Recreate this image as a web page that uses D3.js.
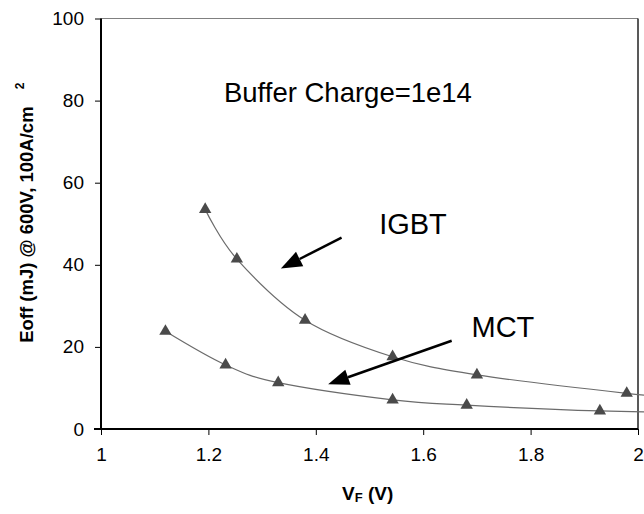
<!DOCTYPE html>
<html>
<head>
<meta charset="utf-8">
<script src="https://cdn.jsdelivr.net/npm/d3@7"></script>
<style>
  body { margin: 0; background: #fff; }
  text { font-family: Arial, "Liberation Sans", sans-serif; }
</style>
</head>
<body>
<div class="chart"></div>
<script>
var width = 644;
var height = 514;
var margin = {top: 18.5, right: 6, bottom: 85, left: 101};

// data (V_F in volts, Eoff in mJ)
var igbtVf = [1.194, 1.253, 1.380, 1.543, 1.700, 1.979, 2.12];
var igbtEoff = [53.5, 41.4, 26.5, 17.6, 13.2, 8.7, 7.2];
var mctVf = [1.120, 1.232, 1.330, 1.543, 1.681, 1.929, 2.12];
var mctEoff = [23.8, 15.6, 11.3, 7.1, 5.8, 4.4, 4.0];

var xTicks = [1, 1.2, 1.4, 1.6, 1.8, 2];
var yTicks = [0, 20, 40, 60, 80, 100];

// annotations in data units
var arrows = [
  {x1: 1.448, y1: 46.6, x2: 1.335, y2: 39.1},
  {x1: 1.653, y1: 21.5, x2: 1.423, y2: 10.9}
];
var labels = [
  {text: "Buffer Charge=1e14", x: 1.229, y: 79.6, size: 27.5},
  {text: "IGBT", x: 1.518, y: 47.4, size: 29},
  {text: "MCT", x: 1.690, y: 22.5, size: 29}
];

var svg = d3.select(".chart").append("svg")
  .attr("width", width)
  .attr("height", height);

var x = d3.scaleLinear().domain([1, 2]).range([margin.left, width - margin.right]);
var y = d3.scaleLinear().domain([0, 100]).range([height - margin.bottom, margin.top]);

// plot frame (top + right)
svg.append("line")
  .attr("x1", x(1)).attr("x2", x(2))
  .attr("y1", y(100)).attr("y2", y(100))
  .attr("stroke", "#808080").attr("stroke-width", 1);
svg.append("line")
  .attr("x1", x(2)).attr("x2", x(2))
  .attr("y1", y(100)).attr("y2", y(0))
  .attr("stroke", "#222").attr("stroke-width", 1.5);

// axes
var xAxis = svg.append("g")
  .attr("transform", "translate(0," + y(0) + ")")
  .call(d3.axisBottom(x).tickValues(xTicks).tickSize(6).tickPadding(13).tickFormat(d3.format("")));
var yAxis = svg.append("g")
  .attr("transform", "translate(" + x(1) + ",0)")
  .call(d3.axisLeft(y).tickValues(yTicks).tickSize(6).tickPadding(11));

[xAxis, yAxis].forEach(function(a) {
  a.select(".domain").attr("stroke", "#000").attr("stroke-width", 2);
  a.selectAll(".tick line").attr("stroke", "#000").attr("stroke-width", 1);
  a.selectAll("text").attr("font-size", 19).attr("fill", "#000")
    .attr("font-family", "Arial, 'Liberation Sans', sans-serif");
});
xAxis.select(".domain").attr("d", "M" + (x(1) - 7) + ",0H" + x(2));
yAxis.select(".domain").attr("d", "M0," + y(0) + "V" + y(100));

// axis titles
var yTitle = svg.append("text")
  .attr("transform", "translate(33," + y(21) + ") rotate(-90)")
  .attr("font-size", 18.5)
  .attr("font-weight", "bold");
yTitle.append("tspan").text("Eoff (mJ) @ 600V, 100A/cm ");
yTitle.append("tspan").attr("font-size", 12).attr("dy", -9).attr("dx", 12).text("2");

var xTitle = svg.append("text")
  .attr("x", 342)
  .attr("y", 500)
  .attr("font-size", 19)
  .attr("font-weight", "bold");
xTitle.append("tspan").text("V");
xTitle.append("tspan").attr("font-size", 13).attr("dy", 2).text("F");
xTitle.append("tspan").attr("dy", -2).text(" (V)");

// series
var line = d3.line()
  .x(function(d) { return x(d[0]); })
  .y(function(d) { return y(d[1]); })
  .curve(d3.curveCardinal.tension(0));

var series = [
  {name: "IGBT", pts: d3.zip(igbtVf, igbtEoff)},
  {name: "MCT", pts: d3.zip(mctVf, mctEoff)}
];

series.forEach(function(s) {
  svg.append("path")
    .datum(s.pts)
    .attr("fill", "none")
    .attr("stroke", "#6b6b6b")
    .attr("stroke-width", 1.2)
    .attr("d", line);

  svg.selectAll(".m-" + s.name)
    .data(s.pts.filter(function(d) { return d[0] <= 2; }))
    .enter().append("path")
      .attr("class", "m-" + s.name)
      .attr("transform", function(d) { return "translate(" + x(d[0]) + "," + y(d[1]) + ")"; })
      .attr("d", d3.symbol().type(d3.symbolTriangle).size(66))
      .attr("fill", "#4a4a4a");
});

// annotation arrows
arrows.forEach(function(a) {
  var sx = x(a.x1), sy = y(a.y1), ex = x(a.x2), ey = y(a.y2);
  var ang = Math.atan2(ey - sy, ex - sx);
  var len = 21, half = 8;
  var bx = ex - len * Math.cos(ang), by = ey - len * Math.sin(ang);
  svg.append("line")
    .attr("x1", sx).attr("y1", sy)
    .attr("x2", bx).attr("y2", by)
    .attr("stroke", "#000").attr("stroke-width", 2.5);
  svg.append("path")
    .attr("d", "M" + ex + "," + ey +
      "L" + (bx + half * Math.sin(ang)) + "," + (by - half * Math.cos(ang)) +
      "L" + (bx - half * Math.sin(ang)) + "," + (by + half * Math.cos(ang)) + "Z")
    .attr("fill", "#000");
});

svg.selectAll(".label")
  .data(labels)
  .enter().append("text")
    .attr("class", "label")
    .attr("x", function(d) { return x(d.x); })
    .attr("y", function(d) { return y(d.y); })
    .attr("font-size", function(d) { return d.size; })
    .attr("fill", "#000")
    .text(function(d) { return d.text; });
</script>
</body>
</html>
